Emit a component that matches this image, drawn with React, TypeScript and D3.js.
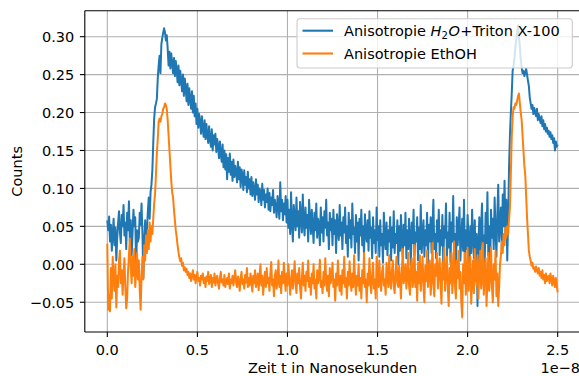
import React from "react";
import * as d3 from "d3";

// time axis: samples every 0.005 (×1e-8 s) starting at 0
const timeStep = 0.005;
const blueLabel = "Anisotropie H2O+Triton X-100";
const orangeLabel = "Anisotropie EthOH";

const xTicks = [0, 0.5, 1.0, 1.5, 2.0, 2.5];
const yTicks = [-0.05, 0.0, 0.05, 0.1, 0.15, 0.2, 0.25, 0.3];

// Anisotropie H2O + Triton X-100
const blueValues = [
  .058,.045,.063,.030,.052,.018,.040,.060,.025,.048,
  .005,.035,.055,.070,.042,.028,.065,.050,.078,.038,
  .055,.020,.068,.045,.083,.030,.058,.012,.040,.072,
  .050,.062,-.005,.045,.030,.035,.068,.052,.080,.040,
  -.018,.030,.058,.015,.045,
  .070,.088,.060,.095,.105,.124,.160,.192,.207,.212,
  .218,.245,.262,.275,.252,.290,.298,.305,.311,.306,
  .295,.302,
  .285,.262,.280,
  .258,.278,.265,.252,.272,.248,.268,.256,.240,.262,
  .236,.255,.242,.228,.250,.222,.245,.232,.215,.238,
  .210,.232,.218,.205,.228,.200,.222,.195,.212,.185,
  .205,.180,.198,.188,.172,.195,.178,.168,.190,.165,
  .185,.170,.160,.182,.165,.155,.178,.150,.170,.158,
  .172,.148,.165,.155,.140,.162,.145,.135,.158,.128,
  .150,.125,.145,.112,.140,.122,.146,.118,.135,.110,
  .138,.115,.130,.122,.108,.135,.112,.128,.102,.125,
  .118,.098,.124,.105,.115,.095,.122,.100,.112,.092,
  .115,.090,.108,.098,.085,.112,.092,.105,.082,.100,
  .095,.078,.106,.085,.098,.075,.092,.082,.100,.072,
  .094,.070,.088,.078,.098,.068,.085,.075,.062,.090,
  .078,.060,.108,.070,.085,.058,.080,.066,.090,.055,
  .085,.048,.072,.040,.095,.055,.030,.078,.060,.045,
  .088,.050,.070,.035,.082,.062,.042,.092,.055,.038,
  .075,.048,.065,.030,.085,.058,.040,.072,.050,.028,
  .068,.045,.080,.035,.060,.052,.025,.075,.042,.062,
  .030,.070,.048,.085,.038,.055,.020,.068,.045,.060,
  .025,.072,.040,.058,.015,.066,.048,.032,.078,.038,
  .055,.020,.062,.042,.075,.028,.050,.010,.068,.035,
  .058,.022,.080,.040,.048,.015,.065,.030,.055,.005,
  .060,.038,.072,.025,.050,.012,.066,.040,.030,.058,
  .018,.070,.035,.048,.008,.062,.028,.045,.015,.075,
  .032,.050,.010,.058,.025,.040,.002,.068,.035,.020,
  .055,.012,.045,.030,.062,.005,.048,.022,.070,.015,
  .040,.028,.058,.000,.050,.018,.065,.032,.010,.052,
  .025,.068,.008,.045,.020,.060,.035,-.002,.055,.028,
  .072,.012,.042,.030,.062,.005,.048,.020,.078,.015,
  .038,.058,.010,.045,.025,.068,.000,.052,.030,.062,
  .015,.048,.085,.020,.040,.008,.058,.030,.072,.012,
  .045,.025,.065,-.005,.050,.035,.080,.010,.042,.022,
  .068,.002,.055,.030,.090,.012,.040,-.008,.062,.025,
  .048,.075,.005,.035,.060,.018,.085,-.005,.045,.020,
  .065,.030,-.010,.050,.015,.072,.035,.008,.058,-.020,
  .040,-.055,.025,.062,.010,.048,.080,.018,.038,.002,
  .068,.028,.095,.012,.050,-.012,.072,.035,.060,.020,
  .088,.045,.010,.065,.105,.030,.055,.075,.020,.092,
  .050,.110,.040,.085,.005,.060,.128,.170,.200,.225,
  .255,.262,.272,.285,.296,.305,.315,.300,.287,.270,
  .260,.252,.255,.248,.252,.258,.250,.242,.235,.220,
  .212,
  .205,.210,.198,.206,.200,.195,.205,.190,.198,.192,
  .186,.195,.182,.190,.178,.185,.175,.180,.172,.176,
  .168,.174,.165,.170,.160,.166,.150,.162,.155,.158,
];

// Anisotropie EthOH
const orangeValues = [
  .027,-.060,-.040,-.062,-.005,-.045,.010,-.020,-.035,.000,
  -.057,-.015,-.030,.005,.018,-.025,-.008,-.040,-.012,.008,
  -.030,-.058,-.045,-.010,.012,.034,-.005,-.025,.010,-.015,
  .020,-.030,-.010,.015,-.020,.005,-.035,-.060,-.015,.010,
  -.020,.025,.005,.038,.015,
  .045,.020,.055,.030,.050,.040,.060,.080,.093,.118,
  .146,.165,.188,.192,.188,.195,.198,.205,.207,.212,
  .210,.205,.190,.170,.150,.130,.110,.095,.088,.072,
  .058,.045,.036,.025,.016,.009,.004,.008,-.002,.002,
  -.008,-.004,-.010,-.006,-.014,
  -.010,-.018,-.012,-.022,-.015,-.008,-.020,-.014,-.025,-.016,
  -.010,-.022,-.018,-.028,-.015,-.020,-.012,-.025,-.018,-.030,
  -.016,-.022,-.010,-.026,-.020,-.014,-.030,-.018,-.024,-.012,
  -.028,-.020,-.015,-.025,-.032,-.018,-.010,-.024,-.020,-.028,
  -.014,-.030,-.022,-.018,-.026,-.012,-.032,-.020,-.025,-.015,
  -.028,-.018,-.008,-.024,-.030,-.016,-.022,-.035,-.018,-.010,
  -.026,-.020,-.032,-.014,-.024,-.005,-.030,-.018,-.028,-.012,
  -.022,-.036,-.015,-.025,-.008,-.030,-.020,-.012,-.034,-.018,
  .000,-.028,-.015,-.040,-.022,-.010,-.030,-.005,-.025,-.018,
  -.035,-.012,.003,-.028,-.020,-.042,-.015,-.008,-.032,-.022,
  .005,-.030,-.015,-.038,-.010,-.025,.002,-.020,-.035,-.012,
  -.028,.000,-.018,-.040,-.022,-.008,-.032,-.015,.004,-.026,
  -.038,-.012,-.025,-.005,-.030,-.045,-.018,.002,-.028,-.015,
  -.035,-.010,-.022,.005,-.030,-.018,-.040,-.012,-.025,.000,
  -.032,-.020,-.045,-.008,-.025,-.015,.006,-.030,-.022,-.038,
  -.010,-.028,.008,-.020,-.035,-.015,-.042,-.005,-.025,-.018,
  .002,-.030,-.020,-.048,-.012,-.028,.005,-.022,-.035,-.015,
  -.040,-.008,-.025,.010,-.030,-.018,-.045,-.010,-.028,.004,
  -.022,-.035,-.012,-.030,.012,-.020,-.040,-.015,-.028,.000,
  -.035,-.018,-.045,-.008,-.025,.015,-.030,-.020,-.050,-.012,
  -.028,.008,-.022,-.038,-.015,.002,-.032,-.020,-.045,.010,
  -.018,-.030,.005,-.025,-.035,-.010,-.002,-.028,-.020,-.040,
  .002,-.015,-.030,.012,-.022,-.032,-.008,.005,-.028,-.038,
  -.012,.010,-.025,-.030,-.002,-.020,-.045,-.010,.020,-.025,
  -.018,.000,-.032,-.015,.015,-.028,-.040,-.005,.008,-.030,
  -.020,.025,-.030,-.010,-.048,.002,-.025,.012,-.035,-.015,
  .010,-.028,-.050,-.002,-.022,.018,-.030,-.012,.005,-.040,
  -.020,.028,-.025,-.042,.000,-.015,.015,-.032,-.010,.008,
  -.028,-.052,.002,-.020,.022,-.035,-.012,.010,-.030,-.055,
  -.005,-.025,.015,-.038,-.015,.030,-.028,-.045,.005,-.018,
  .018,-.032,-.010,-.050,-.070,.000,-.025,.015,-.040,-.012,
  .022,-.035,-.018,.010,-.052,-.022,.005,-.038,.020,-.015,
  -.028,.012,-.045,-.008,.018,-.032,-.020,.028,-.040,-.010,
  .008,-.055,-.022,.015,-.035,-.015,.022,-.030,-.050,.000,
  -.020,.018,-.042,-.012,-.055,-.030,
  .000,.012,.030,.015,.040,.025,.048,.035,.050,.040,
  .060,.075,.120,.168,.195,.207,.205,.212,.210,.216,
  .222,.225,.212,.200,.190,.170,.150,.130,.118,.090,
  .062,.040,.018,.010,.005,
  -.002,.002,-.006,-.004,-.010,-.003,-.008,-.012,-.005,-.015,
  -.010,-.018,-.008,-.020,-.014,-.025,-.012,-.022,-.018,-.015,
  -.025,-.012,-.020,-.028,-.015,-.022,-.030,-.018,-.028,-.037,
];

const W = 579;
const H = 376;
const FONT = "DejaVu Sans";
const FS = 14.5;
const BLUE = "#1f77b4";
const ORANGE = "#ff7f0e";

export default function App() {
  const left = 84.8, right = 580.2, top = 10.7, bottom = 332;
  const timesOf = (vals: number[]) => d3.range(vals.length).map((i) => i * timeStep);
  const blueTimes = timesOf(blueValues);
  const orangeTimes = timesOf(orangeValues);
  const xExt = d3.extent(blueTimes.concat(orangeTimes)) as [number, number];
  const yExt = d3.extent(blueValues.concat(orangeValues)) as [number, number];
  const xPad = (xExt[1] - xExt[0]) * 0.05;
  const yPad = (yExt[1] - yExt[0]) * 0.05;
  const x = d3.scaleLinear().domain([xExt[0] - xPad, xExt[1] + xPad]).range([left, right]);
  const y = d3.scaleLinear().domain([yExt[0] - yPad, yExt[1] + yPad]).range([bottom, top]);

  const makeLine = (times: number[]) =>
    d3
      .line<number>()
      .x((_, i) => x(times[i]))
      .y((d) => y(d));

  const fmtY = (v: number) => v.toFixed(2).replace("-", "\u2212");
  const fmtX = (v: number) => v.toFixed(1);

  const lgX = 297, lgY = 18.7, lgW = 275.3, lgH = 49.3;
  const row1 = 30.7, row2 = 53.5;

  return (
    <svg
      width={W}
      height={H}
      viewBox={`0 0 ${W} ${H}`}
      style={{ position: "absolute", left: 0, top: 0, background: "#fff" }}
      fontFamily={FONT}
    >
      <defs>
        <clipPath id="plotArea">
          <rect x={left} y={top} width={right - left} height={bottom - top} />
        </clipPath>
      </defs>
      <rect x={0} y={0} width={W} height={H} fill="#fff" />
      {/* grid */}
      <g stroke="#b0b0b0" strokeWidth={1.1}>
        {xTicks.map((t) => (
          <line key={"gx" + t} x1={x(t)} x2={x(t)} y1={top} y2={bottom} />
        ))}
        {yTicks.map((t) => (
          <line key={"gy" + t} x1={left} x2={right} y1={y(t)} y2={y(t)} />
        ))}
      </g>
      {/* data */}
      <g clipPath="url(#plotArea)" fill="none" strokeWidth={2.0} strokeLinejoin="round" strokeLinecap="butt">
        <path d={makeLine(blueTimes)(blueValues) || ""} stroke={BLUE} />
        <path d={makeLine(orangeTimes)(orangeValues) || ""} stroke={ORANGE} />
      </g>
      {/* spines */}
      <g stroke="#000" strokeWidth={1.1} fill="none">
        <line x1={left} x2={left} y1={top} y2={bottom} />
        <line x1={left} x2={right} y1={bottom} y2={bottom} />
        <line x1={left} x2={right} y1={top} y2={top} />
        <line x1={right} x2={right} y1={top} y2={bottom} />
      </g>
      {/* x ticks */}
      {xTicks.map((t) => (
        <g key={"xt" + t}>
          <line x1={x(t)} x2={x(t)} y1={bottom} y2={bottom + 4.9} stroke="#000" strokeWidth={1.1} />
          <text x={x(t)} y={354.5} textAnchor="middle" fontSize={FS} fill="#000">
            {fmtX(t)}
          </text>
        </g>
      ))}
      {/* y ticks */}
      {yTicks.map((t) => (
        <g key={"yt" + t}>
          <line x1={left - 4.9} x2={left} y1={y(t)} y2={y(t)} stroke="#000" strokeWidth={1.1} />
          <text x={left - 10.5} y={y(t) + 5.3} textAnchor="end" fontSize={FS} fill="#000">
            {fmtY(t)}
          </text>
        </g>
      ))}
      {/* axis labels */}
      <text x={(left + right) / 2} y={373} textAnchor="middle" fontSize={FS} fill="#000">
        Zeit t in Nanosekunden
      </text>
      <text x={580} y={372.7} textAnchor="end" fontSize={FS} fill="#000">
        1e{"\u2212"}8
      </text>
      <text
        transform={`translate(21.5, ${(top + bottom) / 2}) rotate(-90)`}
        textAnchor="middle"
        fontSize={FS}
        fill="#000"
      >
        Counts
      </text>
      {/* legend */}
      <rect x={lgX} y={lgY} width={lgW} height={lgH} rx={2.9} fill="#fff" fillOpacity={0.8} stroke="#cccccc" strokeWidth={1.1} />
      <line x1={302.5} x2={333} y1={row1} y2={row1} stroke={BLUE} strokeWidth={2.1} />
      <line x1={302.5} x2={333} y1={row2} y2={row2} stroke={ORANGE} strokeWidth={2.1} />
      <text x={344} y={row1 + 5.2} fontSize={FS} fill="#000" aria-label={blueLabel}>
        {"Anisotropie "}
        <tspan fontStyle="italic">H</tspan>
        <tspan fontSize={FS * 0.7} dy={3.2} fontStyle="normal">2</tspan>
        <tspan fontStyle="italic" dy={-3.2} dx={0.5}>O</tspan>
        <tspan dx={0.5}>+Triton X-100</tspan>
      </text>
      <text x={344} y={row2 + 5.2} fontSize={FS} fill="#000">
        {orangeLabel}
      </text>
    </svg>
  );
}
